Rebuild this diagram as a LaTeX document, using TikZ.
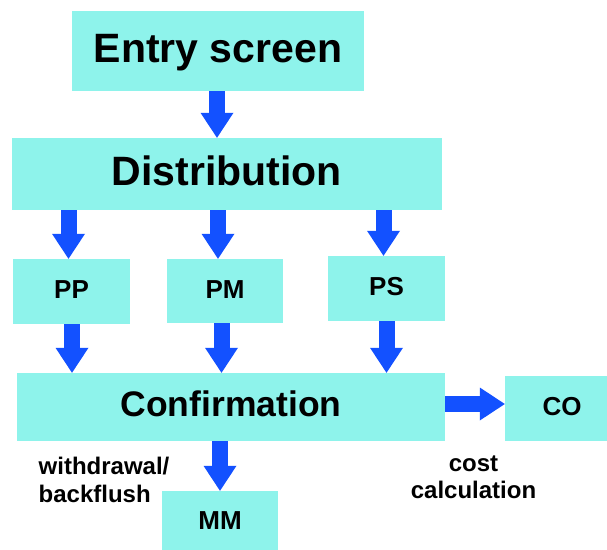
\documentclass[tikz,border=0pt]{standalone}
\usepackage{fontspec}
\setmainfont{Liberation Sans}
\usetikzlibrary{arrows.meta}
\definecolor{boxcyan}{RGB}{142,243,235}
\definecolor{arrowblue}{RGB}{19,81,255}
\tikzset{
  stage/.style={fill=boxcyan, draw=none, inner sep=0pt},
  bigstage/.style={stage, font=\bfseries\fontsize{41}{48}\selectfont,
    text height=30.8pt, text depth=8.2pt},
  midstage/.style={stage, font=\bfseries\fontsize{35.5}{42}\selectfont,
    text height=26.6pt, text depth=7.1pt},
  smallstage/.style={stage, font=\bfseries\fontsize{26}{31}\selectfont,
    text height=19.5pt, text depth=5.2pt},
  note/.style={font=\bfseries\fontsize{24}{27.5}\selectfont, inner sep=0pt},
  flow/.style={draw=arrowblue, line width=16pt,
    -{Triangle[width=33pt,length=25pt,line width=0pt]}}
}
\begin{document}
\begin{tikzpicture}[x=1pt,y=-1pt]
  \useasboundingbox (0,0) rectangle (607,549);

  % boxes
  \node[bigstage, minimum width=292pt, minimum height=80pt] (entry) at (218,51) {Entry screen};
  \node[bigstage, minimum width=430pt, minimum height=72pt] (dist) at (227,174) {Distribution};
  \node[smallstage, minimum width=117pt, minimum height=65pt] (pp) at (71.5,291.5) {PP};
  \node[smallstage, minimum width=116pt, minimum height=64pt] (pm) at (225,291) {PM};
  \node[smallstage, minimum width=117pt, minimum height=65pt] (ps) at (386.5,288.5) {PS};
  \node[midstage, minimum width=428pt, minimum height=68pt] (conf) at (231,407) {Confirmation};
  \node[smallstage, minimum width=114pt, minimum height=65pt] (co) at (562,408.5) {CO};
  \node[smallstage, minimum width=116pt, minimum height=62pt] (mm) at (220,522) {MM};

  % labels (anchored on the baseline of their last line)
  \node[note, anchor=base west, align=left] (wb) at (38.5,502) {withdrawal/\\backflush};
  \node[note, anchor=base, align=center] (cc) at (473.5,498.5) {cost\\calculation};

  % arrow columns
  \coordinate (a0) at (217,0);
  \coordinate (a1) at (68.5,0);
  \coordinate (a2) at (218,0);
  \coordinate (a3) at (383.5,0);
  \coordinate (b1) at (72,0);
  \coordinate (b2) at (221.5,0);
  \coordinate (b3) at (386.5,0);
  \coordinate (c0) at (220,0);
  \coordinate (r0) at (0,404);

  % arrows
  \draw[flow] (entry.south -| a0) -- (dist.north -| a0);
  \draw[flow] (dist.south -| a1) -- (pp.north -| a1);
  \draw[flow] (dist.south -| a2) -- (pm.north -| a2);
  \draw[flow] (dist.south -| a3) -- (ps.north -| a3);
  \draw[flow] (pp.south -| b1) -- (conf.north -| b1);
  \draw[flow] (pm.south -| b2) -- (conf.north -| b2);
  \draw[flow] (ps.south -| b3) -- (conf.north -| b3);
  \draw[flow] (conf.south -| c0) -- (mm.north -| c0);
  \draw[flow] (conf.east |- r0) -- (co.west |- r0);
\end{tikzpicture}
\end{document}
